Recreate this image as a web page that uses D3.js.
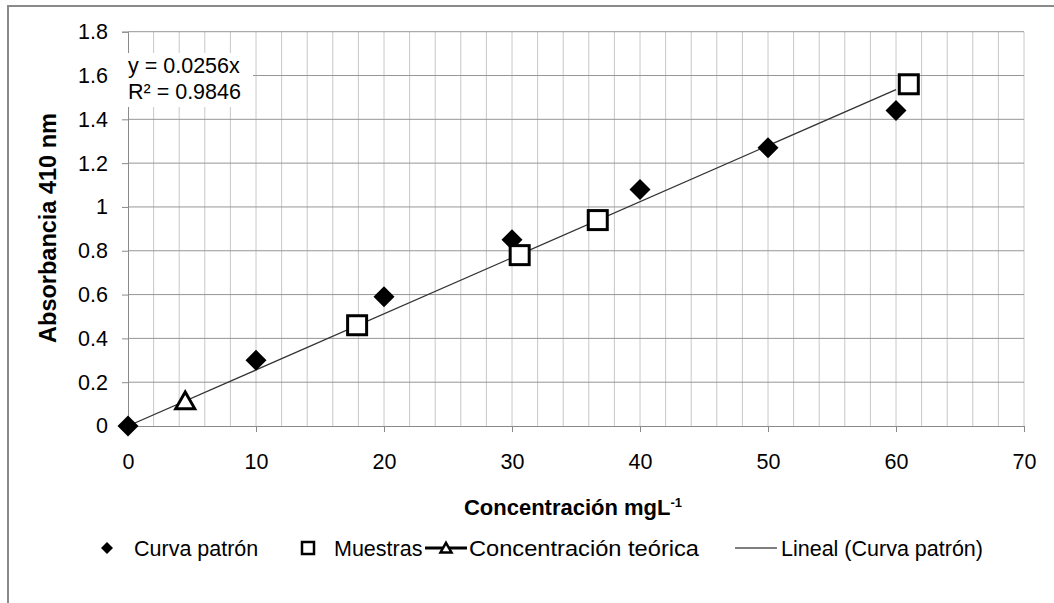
<!DOCTYPE html>
<html>
<head>
<meta charset="utf-8">
<script src="https://cdn.jsdelivr.net/npm/d3@7"></script>
<style>
  body { margin: 0; background: #fff; }
  svg { display: block; font-family: Arial, "Liberation Sans", sans-serif; }
</style>
</head>
<body>
<svg id="chart" width="1054" height="603"></svg>
<script>
// Calibration standards (Curva patrón)
const curvaX = [0, 10, 20, 30, 40, 50, 60];
const curvaY = [0, 0.30, 0.59, 0.85, 1.08, 1.27, 1.44];
// Samples (Muestras)
const muestrasX = [17.9, 30.6, 36.7, 61.0];
const muestrasY = [0.46, 0.78, 0.94, 1.56];
// Theoretical concentration
const teoricaX = [4.47];
const teoricaY = [0.114];
// Linear trendline through the origin
const slope = 0.0256;
const r2 = 0.9846;
// Axis ticks
const xTicks = [0, 10, 20, 30, 40, 50, 60, 70];
const xMinorGrid = d3.range(2, 71, 2);
const yTicks = [0, 0.2, 0.4, 0.6, 0.8, 1, 1.2, 1.4, 1.6, 1.8];
const legendLabels = ["Curva patrón", "Muestras", "Concentración teórica", "Lineal (Curva patrón)"];

const svg = d3.select("#chart");
const x = d3.scaleLinear().domain([0, 70]).range([128, 1024]);
const y = d3.scaleLinear().domain([0, 1.8]).range([426, 31.7]);

const FS = 21.5;

// outer chart frame
svg.append("rect")
  .attr("x", 8).attr("y", 6).attr("width", 1200).attr("height", 800)
  .attr("fill", "none").attr("stroke", "#8a8a8a").attr("stroke-width", 2);

// gridlines
const grid = svg.append("g");
grid.selectAll("line.v").data(xMinorGrid).join("line")
  .attr("x1", d => x(d)).attr("x2", d => x(d))
  .attr("y1", y(0)).attr("y2", y(1.8))
  .attr("stroke", "#c8c8c8").attr("stroke-width", 1);
grid.selectAll("line.h").data(yTicks.slice(1)).join("line")
  .attr("x1", x(0)).attr("x2", x(70))
  .attr("y1", d => y(d)).attr("y2", d => y(d))
  .attr("stroke", "#969696").attr("stroke-width", 1);

// axes
const xAxis = svg.append("g")
  .attr("transform", `translate(0,${y(0)})`)
  .call(d3.axisBottom(x).tickValues(xTicks).tickSize(6).tickPadding(22).tickFormat(d3.format("~g")));
const yAxis = svg.append("g")
  .attr("transform", `translate(${x(0)},0)`)
  .call(d3.axisLeft(y).tickValues(yTicks).tickSize(6).tickPadding(14).tickFormat(d3.format("~g")));
[xAxis, yAxis].forEach(a => {
  a.select(".domain").attr("stroke", "#8a8a8a").attr("stroke-width", 1);
  a.selectAll(".tick line").attr("stroke", "#8a8a8a");
  a.selectAll(".tick text").attr("fill", "#000").attr("font-size", FS).attr("font-family", "Arial, 'Liberation Sans', sans-serif");
});

// equation label box
svg.append("rect")
  .attr("x", 122).attr("y", 53).attr("width", 131).attr("height", 54)
  .attr("fill", "#fff");
svg.append("text").attr("x", 128).attr("y", 73)
  .attr("font-size", FS).text(`y = ${slope}x`);
svg.append("text").attr("x", 128).attr("y", 99)
  .attr("font-size", FS).text(`R² = ${r2}`);

// trendline over the calibration range
const [x0, x1] = d3.extent(curvaX);
svg.append("line")
  .attr("x1", x(x0)).attr("y1", y(slope * x0))
  .attr("x2", x(x1)).attr("y2", y(slope * x1))
  .attr("stroke", "#333").attr("stroke-width", 1.3);

// marker shapes
const diamond = s => `M0,${-s}L${s},0L0,${s}L${-s},0Z`;
const triangle = s => `M0,${-s * 0.95}L${s},${s * 0.8}L${-s},${s * 0.8}Z`;

// theoretical concentration
svg.selectAll("path.tri").data(teoricaX.map((d, i) => [d, teoricaY[i]])).join("path")
  .attr("transform", d => `translate(${x(d[0])},${y(d[1])})`)
  .attr("d", triangle(9.5))
  .attr("fill", "#fff").attr("stroke", "#000").attr("stroke-width", 3)
  .attr("stroke-linejoin", "miter");

// calibration standards
svg.selectAll("path.dia").data(curvaX.map((d, i) => [d, curvaY[i]])).join("path")
  .attr("transform", d => `translate(${x(d[0])},${y(d[1])})`)
  .attr("d", diamond(10.5))
  .attr("fill", "#000");

// samples
svg.selectAll("rect.sq").data(muestrasX.map((d, i) => [d, muestrasY[i]])).join("rect")
  .attr("x", d => x(d[0]) - 9.5).attr("y", d => y(d[1]) - 9.5)
  .attr("width", 19).attr("height", 19)
  .attr("fill", "#fff").attr("stroke", "#000").attr("stroke-width", 3);

// axis titles
const xt = svg.append("text")
  .attr("x", 573).attr("y", 515).attr("text-anchor", "middle")
  .attr("font-size", 22).attr("font-weight", "bold");
xt.append("tspan").text("Concentración mgL");
xt.append("tspan").attr("font-size", 13).attr("dy", -8).text("-1");

svg.append("text")
  .attr("transform", `translate(56,228) rotate(-90)`)
  .attr("text-anchor", "middle")
  .attr("font-size", 23.5).attr("font-weight", "bold")
  .text("Absorbancia 410 nm");

// legend
const ly = 548;
const lg = svg.append("g");
lg.append("path").attr("transform", `translate(107,${ly})`).attr("d", diamond(6)).attr("fill", "#000");
lg.append("text").attr("x", 134).attr("y", ly + 8).attr("font-size", FS).text(legendLabels[0]);

lg.append("rect").attr("x", 302).attr("y", ly - 6).attr("width", 12).attr("height", 12)
  .attr("fill", "#fff").attr("stroke", "#000").attr("stroke-width", 2.5);
lg.append("text").attr("x", 334).attr("y", ly + 8).attr("font-size", FS).text(legendLabels[1]);

lg.append("line").attr("x1", 425).attr("x2", 467).attr("y1", ly).attr("y2", ly)
  .attr("stroke", "#000").attr("stroke-width", 3);
lg.append("path").attr("transform", `translate(446,${ly})`).attr("d", triangle(5.5))
  .attr("fill", "#fff").attr("stroke", "#000").attr("stroke-width", 2.5);
// this label is set slightly wider than the others
lg.append("text").attr("transform", `translate(469,${ly + 8}) scale(1.1,1)`)
  .attr("font-size", FS).text(legendLabels[2]);

lg.append("line").attr("x1", 735).attr("x2", 777).attr("y1", ly).attr("y2", ly)
  .attr("stroke", "#000").attr("stroke-width", 1.2);
lg.append("text").attr("x", 781).attr("y", ly + 8).attr("font-size", FS).text(legendLabels[3]);
</script>
</body>
</html>
